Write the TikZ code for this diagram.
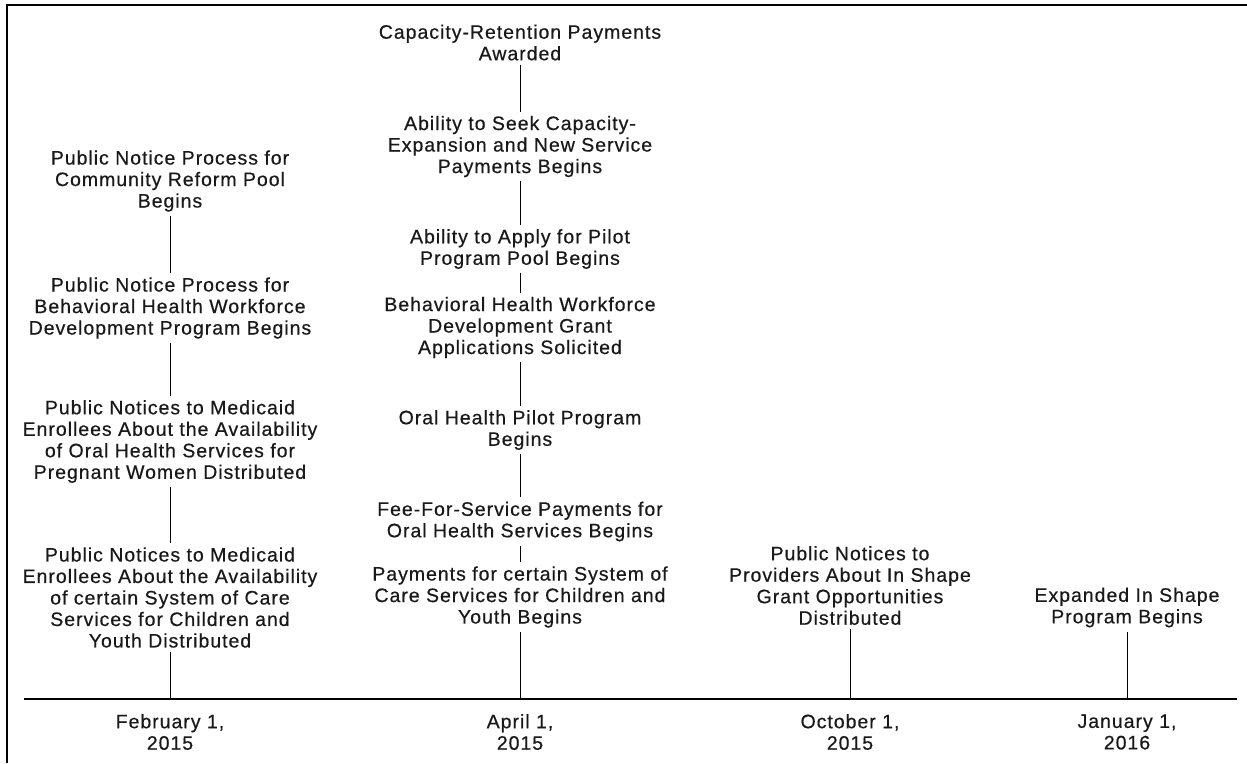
\documentclass[tikz,border=0pt]{standalone}
\usepackage{fontspec}
\setmainfont{Liberation Sans}[LetterSpace=5,FakeBold=0.5]
\begin{document}
\begin{tikzpicture}[x=1pt,y=-1pt,
  ev/.style={align=center,inner sep=1pt,text=black!90,font=\fontsize{19.5}{21.5}\selectfont},
  conn/.style={line width=0.9pt,shorten <=3pt,shorten >=3pt},
  tick/.style={line width=0.9pt,shorten <=3pt},
  axis/.style={line width=1.4pt},
  frame/.style={line width=1.8pt}]
\useasboundingbox (0,0) rectangle (1247,763);
\draw[frame] (1247,5) -- (7,5) -- (7,763);
% column 1
\node[ev] (a1) at (170,181) {Public Notice Process for\\Community Reform Pool\\Begins};
\node[ev] (a2) at (170,308) {Public Notice Process for\\Behavioral Health Workforce\\Development Program Begins};
\node[ev] (a3) at (170,441.5) {Public Notices to Medicaid\\Enrollees About the Availability\\of Oral Health Services for\\Pregnant Women Distributed};
\node[ev] (a4) at (170,597.5) {Public Notices to Medicaid\\Enrollees About the Availability\\of certain System of Care\\Services for Children and\\Youth Distributed};
% column 2
\node[ev] (b1) at (520,42.5) {Capacity-Retention Payments\\Awarded};
\node[ev] (b2) at (520,146.5) {Ability to Seek Capacity-\\Expansion and New Service\\Payments Begins};
\node[ev] (b3) at (520,249) {Ability to Apply for Pilot\\Program Pool Begins};
\node[ev] (b4) at (520,327.5) {Behavioral Health Workforce\\Development Grant\\Applications Solicited};
\node[ev] (b5) at (520,430) {Oral Health Pilot Program\\Begins};
\node[ev] (b6) at (520,521.5) {Fee-For-Service Payments for\\Oral Health Services Begins};
\node[ev] (b7) at (520,597) {Payments for certain System of\\Care Services for Children and\\Youth Begins};
% column 3 and 4
\node[ev] (c1) at (850,585.5) {Public Notices to\\Providers About In Shape\\Grant Opportunities\\Distributed};
\node[ev] (d1) at (1127,607.5) {Expanded In Shape\\Program Begins};
% timeline
\coordinate (tl) at (24,699);
\coordinate (tr) at (1237,699);
\coordinate (t1) at (170,699);
\coordinate (t2) at (520,699);
\coordinate (t3) at (850,699);
\coordinate (t4) at (1127,699);
\draw[axis] (tl) -- (tr);
% dates
\node[ev] (da) at (170,732) {February 1,\\2015};
\node[ev] (db) at (520,732) {April 1,\\2015};
\node[ev] (dc) at (850,732) {October 1,\\2015};
\node[ev] (dd) at (1127,732) {January 1,\\2016};
% connectors
\draw[conn] (a1.south) -- (a2.north);
\draw[conn] (a2.south) -- (a3.north);
\draw[conn] (a3.south) -- (a4.north);
\draw[tick] (a4.south) -- (t1);
\draw[conn] (b1.south) -- (b2.north);
\draw[conn] (b2.south) -- (b3.north);
\draw[conn] (b3.south) -- (b4.north);
\draw[conn] (b4.south) -- (b5.north);
\draw[conn] (b5.south) -- (b6.north);
\draw[conn] (b6.south) -- (b7.north);
\draw[tick] (b7.south) -- (t2);
\draw[tick] (c1.south) -- (t3);
\draw[tick] (d1.south) -- (t4);
\end{tikzpicture}
\end{document}
